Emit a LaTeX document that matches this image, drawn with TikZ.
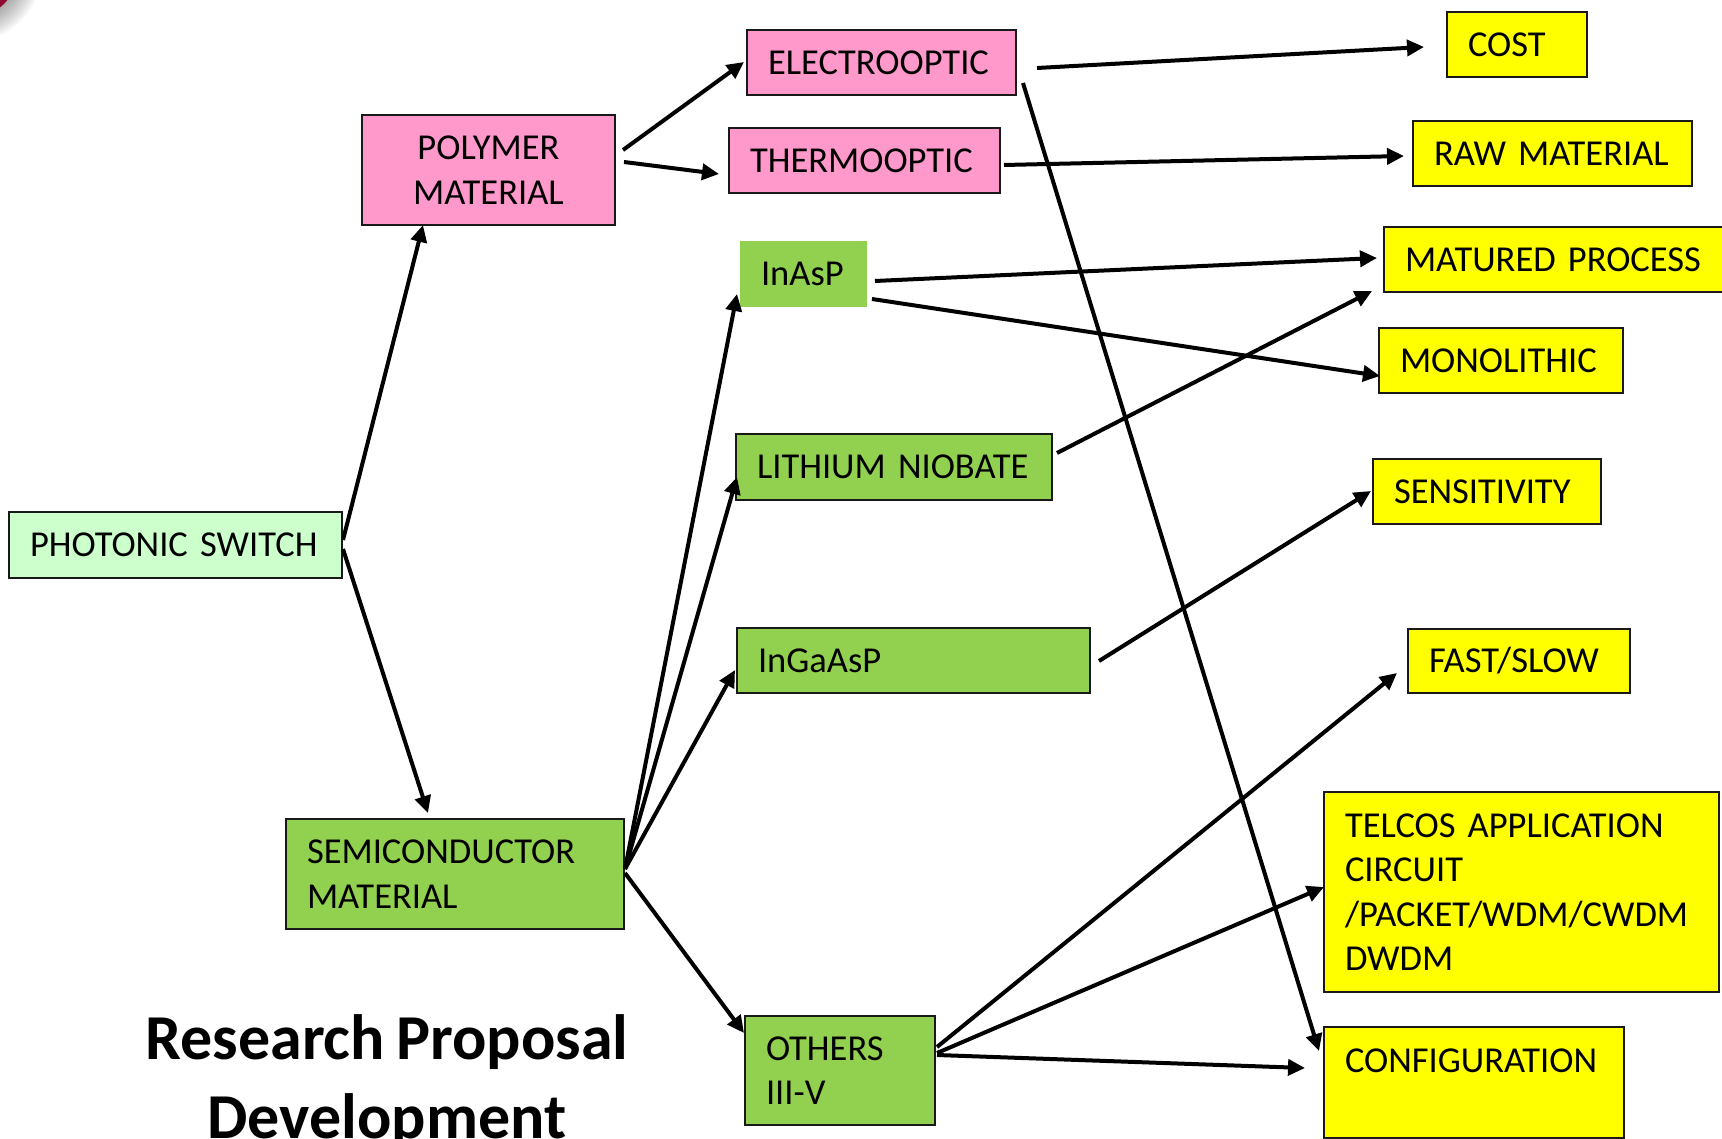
\documentclass[tikz,border=0pt]{standalone}
\usepackage{fontspec}
\setmainfont[WordSpace=0.8]{Carlito}
\usetikzlibrary{arrows.meta}

\definecolor{pinkfill}{HTML}{FF99CC}
\definecolor{greenfill}{HTML}{92D050}
\definecolor{palegreen}{HTML}{CCFFCC}
\definecolor{yellowfill}{HTML}{FFFF00}
\definecolor{cornerred}{RGB}{140,10,50}

\newcommand{\boxfont}{\fontsize{36.5}{44.5}\selectfont}

\begin{document}
\begin{tikzpicture}[x=1pt, y=-1pt,
  box/.style={draw=black!90, line width=1.8pt, anchor=north west, outer sep=0pt,
    inner xsep=21pt, inner ysep=0pt, align=left, font=\boxfont, text=black},
  pinkbox/.style={box, fill=pinkfill},
  greenbox/.style={box, fill=greenfill},
  yellowbox/.style={box, fill=yellowfill},
  conn/.style={line width=4pt, black, -{Triangle[length=17pt,width=16pt]}},
  titletext/.style={font=\fontsize{64}{79}\selectfont\bfseries, anchor=base, inner sep=0pt}
]
\useasboundingbox (0,0) rectangle (1722,1139);
\fill[white] (0,0) rectangle (1722,1139);

% corner ornament with its soft shadow
\foreach \k in {1,...,10}
  \fill[black, opacity=0.035] (-30,-30) circle ({48+2.4*\k});
\fill[cornerred] (-30,-30) circle (48);

% boxes
\node[box, fill=palegreen, text width=291pt, minimum height=66pt] (ps) at (9,512) {PHOTONIC SWITCH};
\node[pinkbox, align=center, text width=211pt, minimum height=110pt] (pol) at (362,115) {POLYMER\\MATERIAL};
\node[pinkbox, text width=227pt, minimum height=65pt] (eo) at (747,30) {ELECTROOPTIC};
\node[pinkbox, text width=229pt, minimum height=65pt] (to) at (729,128) {THERMOOPTIC};
\node[greenbox, draw=none, text width=85pt, minimum height=66pt] (inasp) at (740,241) {InAsP};
\node[greenbox, text width=274pt, minimum height=66pt] (ln) at (736,434) {LITHIUM NIOBATE};
\node[greenbox, text width=311pt, minimum height=65pt] (ingaasp) at (737,628) {InGaAsP};
\node[greenbox, text width=296pt, minimum height=110pt] (semi) at (286,819) {SEMICONDUCTOR\\MATERIAL};
\node[greenbox, text width=148pt, minimum height=109pt] (oth) at (745,1016) {OTHERS\\III-V};

\node[yellowbox, text width=98pt, minimum height=65pt] (cost) at (1447,12) {COST};
\node[yellowbox, text width=237pt, minimum height=65pt] (raw) at (1413,121) {RAW MATERIAL};
\node[yellowbox, text width=304pt, minimum height=65pt] (mat) at (1384,227) {MATURED PROCESS};
\node[yellowbox, text width=202pt, minimum height=65pt] (mono) at (1379,328) {MONOLITHIC};
\node[yellowbox, text width=186pt, minimum height=65pt] (sens) at (1373,459) {SENSITIVITY};
\node[yellowbox, text width=180pt, minimum height=64pt] (fast) at (1408,629) {FAST/SLOW};
\node[yellowbox, text width=353pt, minimum height=200pt] (tel) at (1324,792)
  {TELCOS APPLICATION\\CIRCUIT\\/PACKET/WDM/CWDM\\DWDM};
\node[yellowbox, text width=258pt, minimum height=111pt] (conf) at (1324,1027) {CONFIGURATION\\\mbox{}};

% title
\node[titletext] (title1) at (387,1059) {Research Proposal};
\node[titletext] (title2) at (387,1138) {Development};

% connectors
\draw[conn] ([shift={(1,-5)}]ps.east) -- ([shift={(-65.5,0)}]pol.south);
\draw[conn] ([shift={(1,4)}]ps.east) -- ([shift={(-27,-6)}]semi.north);

\draw[conn] ([shift={(8,-20)}]pol.east) -- ([shift={(-3,-0.5)}]eo.west);
\draw[conn] ([shift={(9,-8)}]pol.east) -- ([shift={(-10,13.5)}]to.west);

\draw[conn] ([shift={(1,-5)}]semi.east) -- ([shift={(-3,-13)}]inasp.south west);
\draw[conn] ([shift={(1,-5)}]semi.east) -- ([shift={(1,10)}]ln.west);
\draw[conn] ([shift={(1,-5)}]semi.east) -- ([shift={(-2,9.5)}]ingaasp.west);
\draw[conn] ([shift={(1,-1)}]semi.east) -- ([shift={(-1,17)}]oth.north west);

\draw[conn] ([shift={(21,5.5)}]eo.east) -- ([shift={(-23,2.5)}]cost.west);
\draw[conn] ([shift={(7,20.5)}]eo.east) -- ([shift={(-5,24)}]conf.north west);
\draw[conn] ([shift={(4,4.5)}]to.east) -- ([shift={(-9,2.5)}]raw.west);
\draw[conn] ([shift={(8,7)}]inasp.east) -- ([shift={(-7,-1.5)}]mat.west);
\draw[conn] ([shift={(5,25)}]inasp.east) -- ([shift={(1,15.5)}]mono.west);
\draw[conn] ([shift={(5,-14)}]ln.east) -- ([shift={(-12,-1)}]mat.south west);
\draw[conn] ([shift={(9,0.5)}]ingaasp.east) -- ([shift={(-2,-0.5)}]sens.west);

\draw[conn] ([shift={(2,-23.5)}]oth.east) -- ([shift={(-11,12)}]fast.west);
\draw[conn] ([shift={(2,-17.5)}]oth.east) -- ([shift={(0,-5)}]tel.west);
\draw[conn] ([shift={(2,-15.5)}]oth.east) -- ([shift={(-19,-14.5)}]conf.west);
\end{tikzpicture}
\end{document}
